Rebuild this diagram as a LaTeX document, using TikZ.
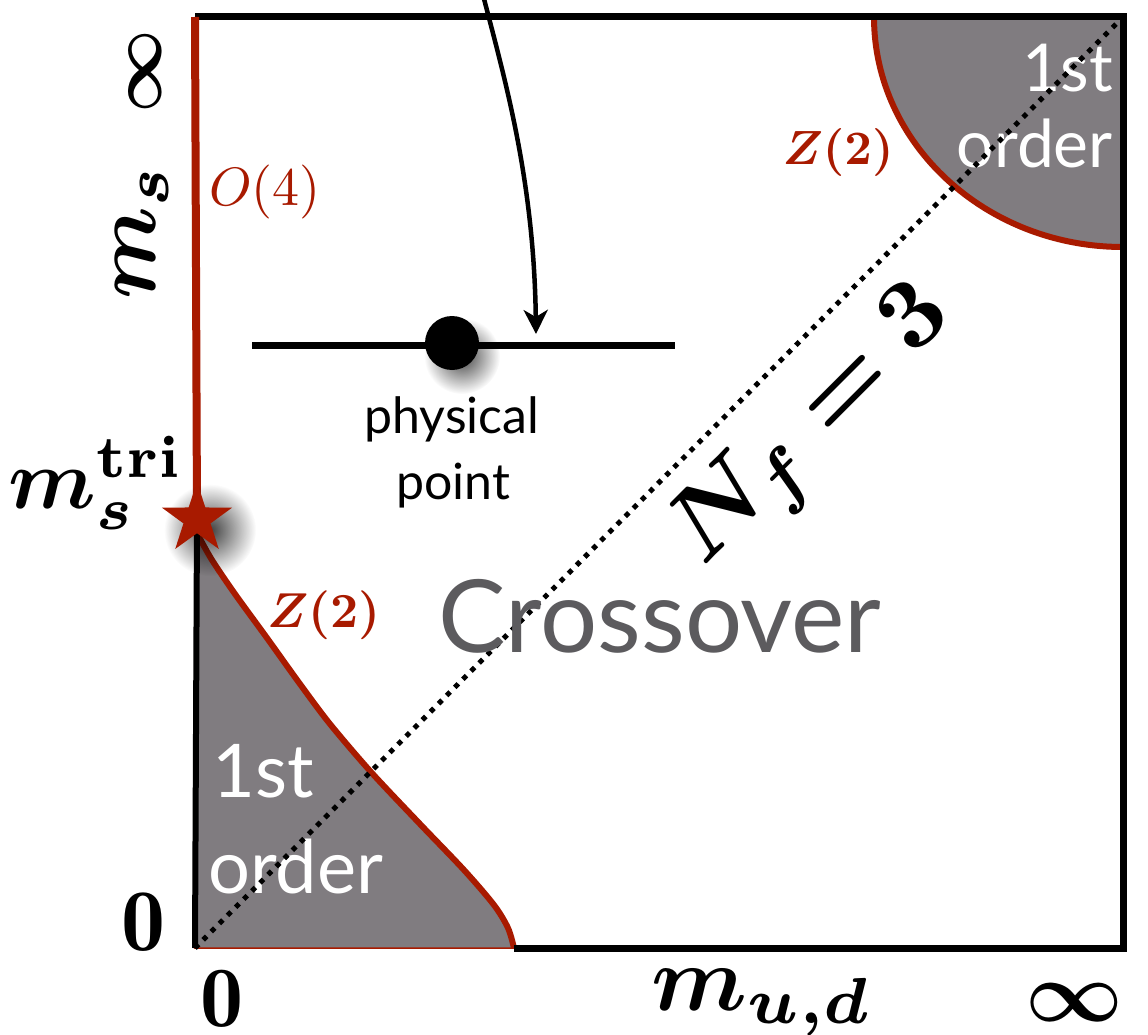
\documentclass[tikz,border=0pt]{standalone}
\usepackage{fontspec}
\setsansfont{Lato}
\usepackage{bm}
\usetikzlibrary{shapes.geometric,arrows.meta,fadings}
\definecolor{cred}{RGB}{168,26,0}
\definecolor{cgray}{RGB}{128,124,128}
\definecolor{ctext}{RGB}{92,91,94}
\tikzfading[name=softfade,inner color=transparent!0,outer color=transparent!100]
\begin{document}
\begin{tikzpicture}[x=1pt,y=-1pt,
  boxedge/.style={line width=7pt},
  redline/.style={cred,line width=6pt},
  mlab/.style={inner sep=0pt},
  regtxt/.style={inner sep=0pt,text=white,font=\sffamily\fontsize{#1}{#1}\selectfont},
  softshadow/.style={black,opacity=0.75,path fading=softfade},
]
\clip (0,0) rectangle (1148,1035);
\fill[white] (0,0) rectangle (1148,1035);
% frame coordinates
\coordinate (O) at (195,948);
\coordinate (TL) at (195,17);
\coordinate (TR) at (1123,17);
\coordinate (BR) at (1123,948);
\coordinate (L1) at (514,948);
\coordinate (A1) at (874,17);
\coordinate (A2) at (1123,247);
% top-right first order region
\fill[cgray] (A1) .. controls (874,144) and (986,247) .. (A2) -- (TR) -- cycle;
\draw[redline] (A1) .. controls (874,144) and (986,247) .. (A2);
% bottom-left first order region
\fill[cgray,draw=cred,line width=1.5pt] plot[smooth] coordinates {(198,535) (212,560) (235,594) (267,638) (300,684) (330,724) (371,772) (420,824) (464,870) (494,905) (508,928) (514,948)} -- (O) -- (198,535) -- cycle;
\draw[redline] plot[smooth] coordinates {(198,535) (212,560) (235,594) (267,638) (300,684) (330,724) (371,772) (420,824) (464,870) (494,905) (508,928) (514,948)};
% frame
\draw[boxedge] (L1) -- (BR) -- (TR) -- (TL);
\draw[cred,line width=8pt] (TL) -- (197,519);
\draw[line width=6pt] (197,519) -- (O);
% labels inside regions
\node[regtxt=66,anchor=base east] (t1) at (1113,92) {1st};
\node[regtxt=66,anchor=base east] (t2) at (1113,168) {order};
\node[regtxt=74,anchor=base west] (b1) at (212,797) {1st};
\node[regtxt=74,anchor=base west] (b2) at (208,893) {order};
% diagonal Nf=3
\draw[line width=5pt,dash pattern=on 5pt off 6.5pt] (O) -- (TR);
\node[mlab,rotate=45,scale=10] (nf) at (815,428) {$\bm{N_f = 3}$};
% crossover
\node[inner sep=0pt,anchor=base,text=ctext,font=\sffamily\fontsize{101}{101}\selectfont] (cross) at (660,652) {Crossover};
% physical point
\coordinate (ppL) at (252,345);
\coordinate (ppR) at (675,345);
\fill[softshadow] (462,356) circle (38);
\draw[line width=7pt] (ppL) -- (ppR);
\node[circle,fill=black,minimum size=54pt,inner sep=0pt] (pp) at (452,343) {};
\coordinate (arrS) at (483,-5);
\coordinate (arrE) at (536,334);
\draw[line width=4.5pt,-{Stealth[length=24pt,width=24pt,inset=7pt]}] (arrS) .. controls (505,80) and (534,180) .. (arrE);
\node[inner sep=0pt,anchor=base,font=\sffamily\fontsize{50}{50}\selectfont] (phys) at (452,433) {physical};
\node[inner sep=0pt,anchor=base,font=\sffamily\fontsize{50}{50}\selectfont] (point) at (453,499) {point};
% star
\fill[softshadow] (210,530) circle (46);
\node[star,star points=5,star point ratio=2.6,fill=cred,minimum size=74pt,inner sep=0pt] (star) at (197,519) {};
% red labels
\node[mlab,text=cred,scale=5.4,anchor=west] (o4) at (208,192) {$O(4)$};
\node[mlab,text=cred,scale=4.8] (z2a) at (838,153) {$\bm{Z(2)}$};
\node[mlab,text=cred,scale=4.9] (z2b) at (324,615) {$\bm{Z(2)}$};
% axis labels
\node[mlab,rotate=90,scale=7.3] (inftop) at (145,72) {$\bm{\infty}$};
\node[mlab,rotate=90,scale=9] (ms) at (142,232) {$\bm{m_s}$};
\node[mlab,scale=8.5,anchor=base east] (mtri) at (186,508) {$\bm{m_s^{\mathbf{tri}}}$};
\node[mlab,scale=8.8,anchor=base] (zl) at (143,950) {$\mathbf{0}$};
\node[mlab,scale=8.6,anchor=base] (zb) at (222,1026) {$\mathbf{0}$};
\node[mlab,scale=9.3,anchor=base west] (mud) at (650,1010) {$\bm{m_{u,d}}$};
\node[mlab,scale=8.5] (infb) at (1074,1003) {$\bm{\infty}$};
\end{tikzpicture}
\end{document}
